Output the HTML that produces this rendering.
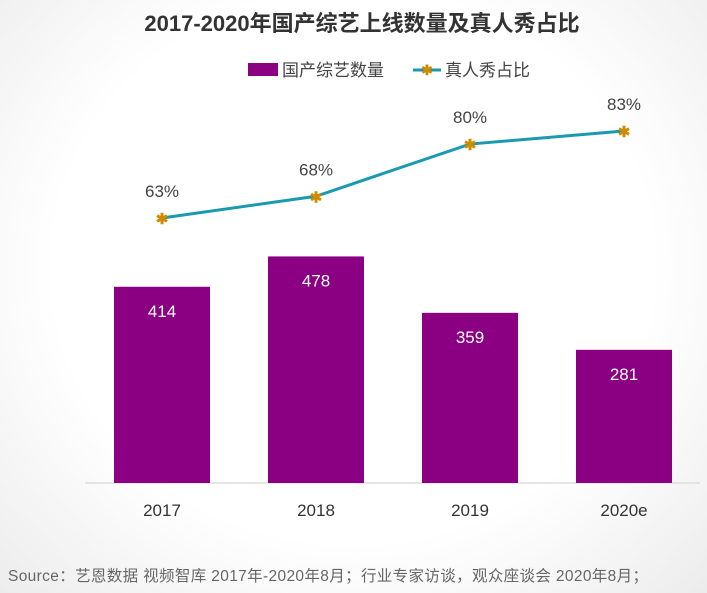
<!DOCTYPE html>
<html><head><meta charset="utf-8"><style>
body{margin:0;width:707px;height:593px;overflow:hidden;background:radial-gradient(ellipse at 50% 45%,#ffffff 60%,#ececec 100%);font-family:"Liberation Sans","Noto Sans CJK SC",sans-serif;}
svg{position:absolute;left:0;top:0}
</style></head><body>
<svg width="707" height="593" font-family="'Liberation Sans','Noto Sans CJK SC',sans-serif">
<text x="362" y="31" text-anchor="middle" font-size="22" font-weight="bold" fill="#333">2017-2020年国产综艺上线数量及真人秀占比</text>
<g>
<rect x="248" y="63" width="30" height="13" fill="#8b0083"/>
<text x="282" y="76" font-size="17" fill="#444">国产综艺数量</text>
<line x1="413" y1="70" x2="441" y2="70" stroke="#1a9ab0" stroke-width="3"/>
<text x="427" y="75" font-size="14" text-anchor="middle" fill="#d08a00" font-weight="bold">✱</text>
<text x="445" y="76" font-size="17" fill="#444">真人秀占比</text>
</g>
<line x1="85" y1="483" x2="700" y2="483" stroke="#ddd" stroke-width="1.5"/>
<g id="bars"></g><g id="line"></g><g id="xl"></g>
<text x="8" y="581" font-size="15.5" fill="#666" textLength="640">Source：艺恩数据 视频智库 2017年-2020年8月；行业专家访谈，观众座谈会 2020年8月；</text>
</svg>
<script>
const categories=["2017","2018","2019","2020e"];
const counts=[414,478,359,281];
const ratios=[63,68,80,83];
const NS="http://www.w3.org/2000/svg";
const xc=i=>162+i*154;
const yb=v=>483-v*0.474;
const yl=v=>218-(v-63)*4.35;
function mk(t,a,p){const e=document.createElementNS(NS,t);for(const k in a)e.setAttribute(k,a[k]);p.appendChild(e);return e;}
const bars=document.getElementById('bars'),line=document.getElementById('line'),xl=document.getElementById('xl');
counts.forEach((v,i)=>{
 const r=mk('rect',{x:xc(i)-48,y:yb(v),width:96,height:483-yb(v),fill:'#8b0083'},bars);
 
 
 const t=mk('text',{x:xc(i),y:yb(v)+30,'text-anchor':'middle','font-size':17,fill:'#fff'},bars);
 t.textContent=v;
 
 
 const c=mk('text',{x:xc(i),y:516,'text-anchor':'middle','font-size':17,fill:'#333'},xl);
 c.textContent=categories[i];
 
 
});
const pl=mk('polyline',{points:ratios.map((v,i)=>xc(i)+','+yl(v)).join(' '),fill:'none',stroke:'#1a9ab0','stroke-width':3},line);


ratios.forEach((v,i)=>{
 const m=mk('text',{x:xc(i),y:yl(v)+6,'text-anchor':'middle','font-size':15,'font-weight':'bold',fill:'#d08a00'},line);
 m.textContent='✱';
 
 
 const t=mk('text',{x:xc(i),y:yl(v)-21,'text-anchor':'middle','font-size':17,fill:'#444'},line);
 t.textContent=v+'%';
 
 
});
</script>
</body></html>
